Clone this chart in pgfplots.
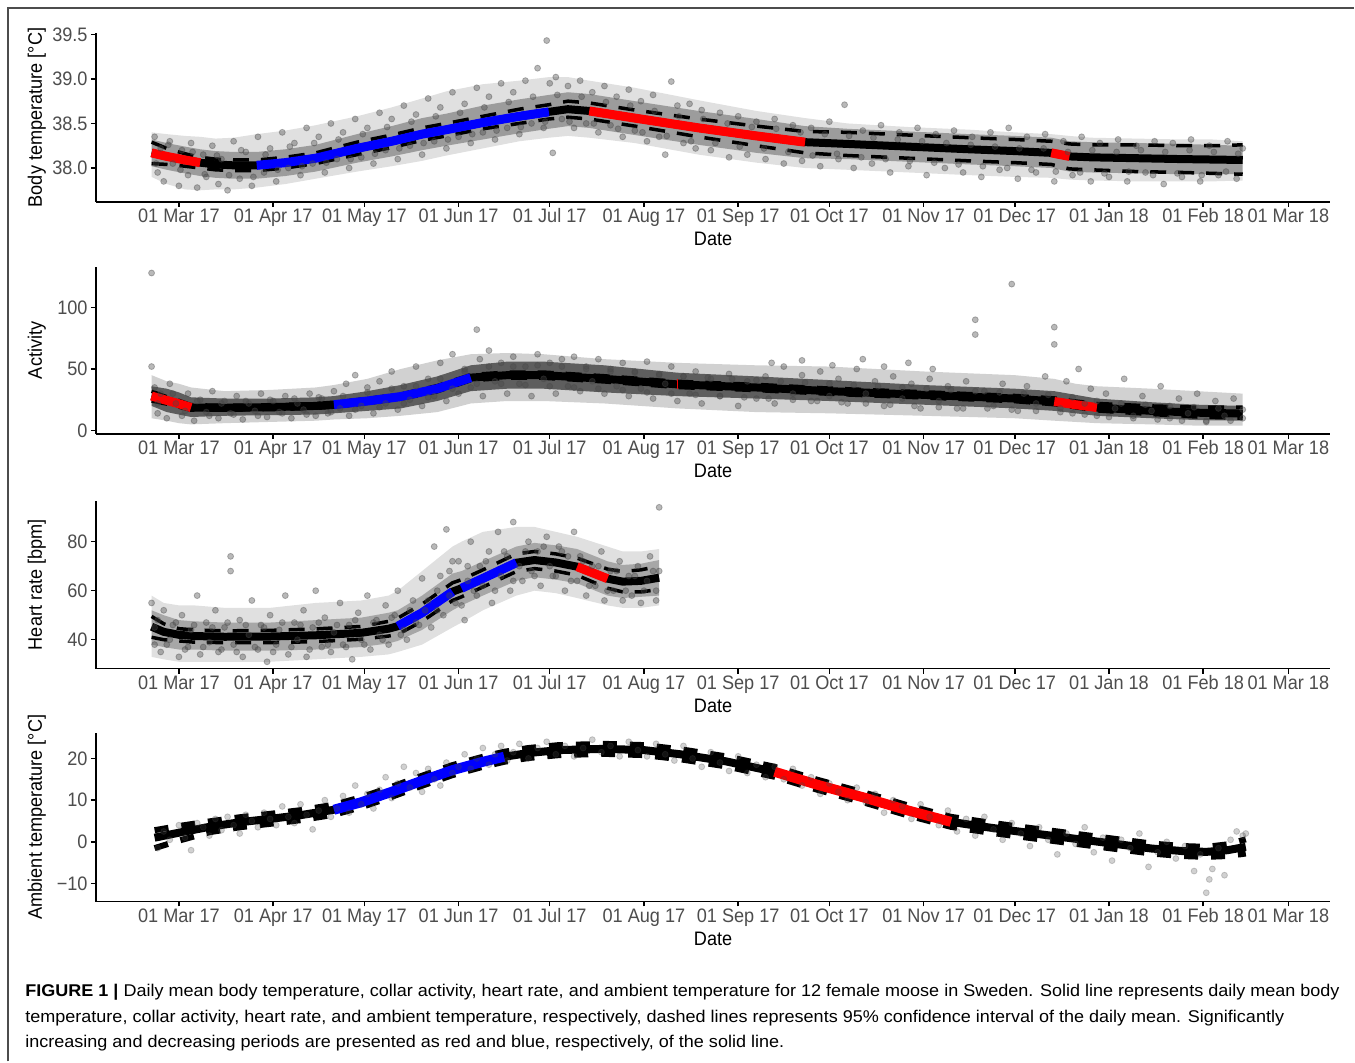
\documentclass[border=0pt]{standalone}
\usepackage{fontspec}
\setmainfont{Liberation Sans}
\newfontfamily\tickfont{Liberation Sans}[FakeStretch=0.93]
\usepackage{graphicx}
\usepackage{pgfplots}
\usepackage{pgfplotstable}
\pgfplotsset{compat=1.18}
\definecolor{tickgray}{HTML}{4D4D4D}
\definecolor{ptgray}{HTML}{484848}
\definecolor{myred}{HTML}{FF0000}
\definecolor{myblue}{HTML}{0000FF}
\newsavebox\capA
\newsavebox\capB
\newsavebox\capC

% body temperature: day (0 = 01 Mar 17), mean, 95% CI
\pgfplotstableread{
d m lo hi
-9 38.17 38.05 38.29
-4 38.13 38.04 38.22
2 38.09 38.02 38.16
7 38.06 38.00 38.12
12 38.04 37.98 38.10
18 38.03 37.97 38.09
25.6 38.03 37.97 38.09
35 38.06 38.00 38.12
45 38.11 38.05 38.17
58.6 38.22 38.15 38.29
70 38.30 38.23 38.37
80 38.38 38.31 38.45
88 38.43 38.36 38.50
100 38.51 38.44 38.58
112 38.58 38.50 38.66
121.7 38.63 38.55 38.71
128 38.66 38.57 38.75
135 38.64 38.55 38.73
150 38.56 38.47 38.65
171 38.45 38.35 38.55
190 38.36 38.25 38.47
206 38.29 38.17 38.41
220 38.27 38.14 38.40
240 38.24 38.11 38.37
260 38.21 38.08 38.34
275 38.19 38.06 38.32
287 38.17 38.04 38.30
293 38.13 37.99 38.27
300 38.12 37.98 38.26
315 38.11 37.96 38.26
330 38.10 37.95 38.25
340 38.095 37.94 38.25
350 38.09 37.93 38.26
}\bodyT

\pgfplotstableread{
d m lo hi
-9 28 24 32
-4 24.5 21.5 27.5
0 21.8 19 24.5
4 18.7 16.5 21
15 18.5 16.5 20.5
30 19 17 21
45 20 18 22
51 21 19 23
62 24 22 26
73 27.6 25.5 29.7
85 34 31.5 36.5
96 43 40.5 45.5
108 45 42.5 47.5
120 45 42.5 47.5
140 42 39.5 44.5
164 37.5 35 40
190 35 32.5 37.5
214 32 29.5 34.5
245 29 26.5 31.5
275 26 23.5 28.5
288 23.6 21 26.5
295 21 18.5 24
302 18.7 16 22
320 16 13 20
335 14.5 11 19
350 13.8 10 19
}\actT

\pgfplotstableread{
d m lo hi
-9 45.3 41 49.5
-5 43.2 40 46.5
0 42 39.5 44.5
5 41.5 39 44
15 41.2 38.8 43.6
30 41.3 38.8 43.8
45 41.8 39.2 44.4
60 42.8 40.2 45.4
69 44.5 41.5 47.5
72 45.5 42.2 48.8
80 51 47.5 54.5
90 59.6 56 63.2
93 61 57.5 64.5
100 65 61.5 68.5
111 71.4 67.8 75
117 72.5 69 76
124 71.5 68 75
131 69.8 66.3 73.3
141 64.9 61 68.8
146 63.7 59.5 67.8
152 64 59.5 68.5
158 65.3 60.5 70
}\hrT

\pgfplotstableread{
d m lo hi
-8 1.0 -1.5 2.8
0 2.2 0.3 3.8
10 3.6 2.3 4.9
20 4.7 3.5 5.9
31 5.6 4.4 6.8
40 6.4 5.2 7.6
51 7.7 6.5 8.9
60 9.5 8.3 10.7
70 12 10.8 13.2
79 14.4 13.2 15.6
90 17.2 16 18.4
100 19.2 18 20.4
107 20.4 19.2 21.6
115 21.3 20.1 22.5
125 22 20.8 23.2
140 22.3 21.1 23.5
153 22 20.8 23.2
165 21 19.8 22.2
180 19.3 18.1 20.5
196 16.8 15.6 18
210 13.7 12.5 14.9
226 10.5 9.3 11.7
240 7.5 6.3 8.7
254 4.8 3.6 6
265 3.6 2.4 4.8
275 2.6 1.4 3.8
290 1.2 0 2.4
306 -0.3 -1.5 0.9
320 -1.6 -2.8 -0.4
330 -2.2 -3.4 -1
338 -2.4 -3.6 -1.2
345 -2 -3.4 -0.6
351 -1.2 -2.8 0.6
}\ambT

\pgfplotsset{
  moosepanel/.style={
    scale only axis, width=617.5pt, anchor=south west,
    xmin=-27.3, xmax=378.8,
    axis lines=left, axis line style={-, line width=0.75pt},
    tick align=outside, major tick length=2.5pt,
    every tick/.style={black, line width=0.75pt},
    xtick={0,31,61,92,122,153,184,214,245,275,306,337,365},
    xticklabels={01 Mar 17,01 Apr 17,01 May 17,01 Jun 17,01 Jul 17,01 Aug 17,01 Sep 17,01 Oct 17,01 Nov 17,01 Dec 17,01 Jan 18,01 Feb 18,01 Mar 18},
    tick label style={font=\tickfont\fontsize{9.75}{11}\selectfont, text=tickgray},
    xticklabel style={anchor=base, yshift=-8pt},
    yticklabel style={inner xsep=1.5pt},
    xlabel={Date},
    label style={font=\tickfont\fontsize{9.75}{11}\selectfont},
    xlabel style={at={(axis description cs:0.5,0)}, anchor=center, yshift=-18.5pt},
    ylabel style={at={(axis description cs:-0.0478,0.5)}, anchor=center},
  },
  pts/.style={only marks, mark=*, mark size=1.5pt, mark options={fill=ptgray, draw=ptgray, fill opacity=0.38, draw opacity=0.38}},
  outerband/.style={draw=none, fill=black, fill opacity=0.12},
  innerband/.style={draw=none, fill=black, fill opacity=0.3},
  meanline/.style={black, line width=4pt},
  ciline/.style={black, line width=1.75pt, dash pattern=on 8pt off 6pt},
}

\begin{document}%
\sbox\capA{\fontsize{8.5}{10}\selectfont\textbf{FIGURE 1 |} Daily mean body temperature, collar activity, heart rate, and ambient temperature for 12 female moose in Sweden. Solid line represents daily mean body}%
\sbox\capB{\fontsize{8.5}{10}\selectfont temperature, collar activity, heart rate, and ambient temperature, respectively, dashed lines represents 95\% confidence interval of the daily mean. Significantly}%
\sbox\capC{\fontsize{8.5}{10}\selectfont increasing and decreasing periods are presented as red and blue, respectively, of the solid line.}%
\begin{tikzpicture}
\fill[white] (0,0) rectangle (677.5pt,531pt);
\draw[line width=0.75pt, black!70] (4pt,0) -- (4pt,527pt) -- (677.5pt,527pt);

% ---------------- Panel 1: body temperature
\begin{axis}[moosepanel, at={(48pt,430pt)}, height=84.5pt,
  ymin=37.62, ymax=39.515, ytick={38,38.5,39,39.5}, yticklabels={38.0,38.5,39.0,39.5},
  ylabel={Body temperature [°C]}]
\addplot[outerband] coordinates {(-9,38.40)(-4,38.38)(2,38.36)(7,38.35)(12,38.33)(18,38.34)(25.6,38.38)(35,38.42)(45,38.48)(58.6,38.58)(70,38.68)(80,38.78)(88,38.86)(100,38.94)(112,38.98)(121.7,39.02)(128,39.02)(135,38.98)(150,38.90)(171,38.76)(190,38.64)(206,38.56)(220,38.50)(240,38.46)(260,38.43)(275,38.40)(287,38.38)(293,38.36)(300,38.34)(315,38.33)(330,38.32)(340,38.32)(350,38.30)
(350,37.86)(340,37.85)(330,37.85)(315,37.85)(300,37.86)(293,37.87)(287,37.89)(275,37.90)(260,37.92)(240,37.95)(220,37.98)(206,38.00)(190,38.06)(171,38.15)(150,38.28)(135,38.34)(128,38.36)(121.7,38.34)(112,38.30)(100,38.22)(88,38.14)(80,38.08)(70,38.02)(58.6,37.96)(45,37.88)(35,37.82)(25.6,37.78)(18,37.76)(12,37.76)(7,37.75)(2,37.76)(-4,37.82)(-9,37.90)};
\addplot[pts] coordinates {(-8,38.35)(-7,37.95)(-6,38.22)(-5,37.85)(-3,38.30)(-2,38.05)(0,37.80)(1,38.20)(3,37.92)(4,38.28)(6,37.78)(8,38.15)(9,37.90)(11,38.25)(13,37.82)(14,38.10)(16,37.75)(18,38.30)(20,37.88)(22,38.18)(24,37.80)(26,38.35)(28,37.95)(30,38.22)(32,37.85)(34,38.40)(36,38.00)(38,38.28)(40,37.92)(42,38.45)(44,38.05)(46,38.35)(48,37.95)(50,38.50)(52,38.10)(54,38.40)(56,38.00)(58,38.55)(60,38.12)(62,38.45)(64,38.05)(66,38.62)(68,38.20)(70,38.55)(72,38.10)(74,38.70)(76,38.25)(78,38.60)(80,38.15)(82,38.78)(84,38.30)(86,38.68)(88,38.22)(90,38.85)(92,38.35)(94,38.72)(96,38.28)(98,38.90)(100,38.40)(102,38.80)(104,38.32)(106,38.95)(108,38.45)(110,38.85)(112,38.38)(114,38.98)(116,38.50)(118,39.12)(120,38.45)(121,39.43)(122,38.95)(123,38.17)(124,39.02)(126,38.55)(128,38.92)(130,38.45)(132,38.98)(134,38.50)(136,38.85)(138,38.40)(140,38.92)(142,38.48)(144,38.80)(146,38.35)(148,38.88)(150,38.42)(152,38.75)(154,38.30)(156,38.82)(158,38.35)(160,38.15)(162,38.97)(164,38.70)(166,38.28)(168,38.72)(170,38.22)(172,38.65)(175,38.20)(178,38.62)(181,38.12)(184,38.58)(187,38.15)(190,38.52)(193,38.10)(196,38.55)(199,38.05)(202,38.48)(205,38.08)(208,38.45)(211,38.02)(214,38.52)(217,38.10)(219,38.71)(222,38.00)(225,38.42)(228,38.05)(231,38.48)(234,37.95)(237,38.40)(240,38.02)(243,38.45)(246,37.92)(249,38.38)(252,38.00)(255,38.42)(258,37.95)(261,38.35)(264,37.90)(267,38.40)(270,37.98)(273,38.45)(276,37.88)(279,38.35)(282,37.95)(285,38.38)(288,37.85)(291,38.30)(294,37.92)(297,38.35)(300,37.85)(303,38.28)(306,37.90)(309,38.32)(312,37.85)(315,38.25)(318,37.95)(321,38.30)(324,37.82)(327,38.28)(330,37.90)(333,38.32)(336,37.85)(339,38.25)(342,37.92)(345,38.30)(348,37.88)(350,38.22)
(-7.5,38.05)(-3.5,38.26)(0.5,37.98)(4.5,38.18)(8.5,37.93)(12.5,38.14)(16.5,37.92)(20.5,38.20)(24.5,37.90)(28.5,38.15)(32.5,37.98)(36.5,38.24)(40.5,38.02)(44.5,38.28)(48.5,38.06)(52.5,38.32)(56.5,38.10)(60.5,38.38)(64.5,38.16)(68.5,38.46)(72.5,38.22)(76.5,38.52)(80.5,38.28)(84.5,38.58)(88.5,38.32)(92.5,38.62)(96.5,38.38)(100.5,38.68)(104.5,38.42)(108.5,38.74)(112.5,38.46)(116.5,38.80)(120.5,38.52)(124.5,38.82)(128.5,38.52)(132.5,38.80)(136.5,38.50)(140.5,38.74)(144.5,38.44)(148.5,38.70)(152.5,38.40)(156.5,38.64)(160.5,38.36)(164.5,38.58)(168.5,38.30)(172.5,38.55)(176.5,38.28)(180.5,38.50)(184.5,38.24)(188.5,38.46)(192.5,38.22)(196.5,38.44)(200.5,38.18)(204.5,38.40)(208.5,38.14)(212.5,38.38)(216.5,38.16)(220.5,38.36)(224.5,38.12)(228.5,38.34)(232.5,38.10)(236.5,38.32)(240.5,38.08)(244.5,38.30)(248.5,38.06)(252.5,38.28)(256.5,38.04)(260.5,38.26)(264.5,38.02)(268.5,38.24)(272.5,38.00)(276.5,38.22)(280.5,37.98)(284.5,38.22)(288.5,37.96)(292.5,38.18)(296.5,37.95)(300.5,38.20)(304.5,37.94)(308.5,38.18)(312.5,37.96)(316.5,38.20)(320.5,37.92)(324.5,38.18)(328.5,37.94)(332.5,38.20)(336.5,37.92)(340.5,38.18)(344.5,37.96)(348.5,38.16)};
\addplot[innerband] coordinates {(-9,38.32)(-4,38.28)(2,38.24)(7,38.21)(12,38.19)(18,38.18)(25.6,38.18)(35,38.21)(45,38.26)(58.6,38.38)(70,38.47)(80,38.56)(88,38.61)(100,38.70)(112,38.77)(121.7,38.82)(128,38.85)(135,38.83)(150,38.75)(171,38.64)(190,38.55)(206,38.47)(220,38.44)(240,38.41)(260,38.38)(275,38.36)(287,38.34)(293,38.30)(300,38.29)(315,38.28)(330,38.27)(340,38.26)(350,38.25)
(350,37.93)(340,37.93)(330,37.93)(315,37.94)(300,37.95)(293,37.96)(287,38.00)(275,38.02)(260,38.04)(240,38.07)(220,38.10)(206,38.11)(190,38.17)(171,38.26)(150,38.37)(135,38.45)(128,38.47)(121.7,38.44)(112,38.39)(100,38.32)(88,38.25)(80,38.20)(70,38.13)(58.6,38.06)(45,37.96)(35,37.91)(25.6,37.88)(18,37.88)(12,37.89)(7,37.91)(2,37.94)(-4,37.98)(-9,38.02)};
\addplot[ciline] table[x=d,y=lo]{\bodyT};
\addplot[ciline] table[x=d,y=hi]{\bodyT};
\addplot[meanline] table[x=d,y=m]{\bodyT};
\addplot[myred, line width=4.5pt, restrict x to domain=-9:7] table[x=d,y=m]{\bodyT};
\addplot[myblue, line width=4.5pt, restrict x to domain=25:122] table[x=d,y=m]{\bodyT};
\addplot[myred, line width=4.5pt, restrict x to domain=135:206] table[x=d,y=m]{\bodyT};
\addplot[myred, line width=4.5pt, restrict x to domain=287:293] table[x=d,y=m]{\bodyT};
\end{axis}

% ---------------- Panel 2: activity
\begin{axis}[moosepanel, at={(48pt,314pt)}, height=83.5pt,
  ymin=-2.6, ymax=133, ytick={0,50,100}, yticklabels={0,50,100},
  ylabel={Activity}]
\addplot[outerband, fill opacity=0.18] coordinates {(-9,45)(-4,40)(0,38)(4,35)(15,32)(30,33)(45,35)(51,37)(62,42)(73,50)(85,57)(96,62)(108,63)(120,62)(140,58)(164,55)(190,53)(214,52)(245,48)(275,45)(288,42)(295,38)(302,36)(320,34)(335,32)(350,30)
(350,4)(335,4)(320,5)(302,6)(295,7)(288,8)(275,10)(245,12)(214,14)(190,15)(164,18)(140,22)(120,24)(108,24)(96,22)(85,15)(73,12)(62,10)(51,9)(45,8)(30,7)(15,6)(4,5)(0,6)(-4,8)(-9,10)};
\addplot[pts] coordinates {(-9,128)(-9,52)(-8,35)(-7,14)(-6,30)(-4,10)(-3,38)(-1,22)(1,12)(3,30)(5,8)(7,25)(9,15)(11,32)(13,10)(15,24)(17,14)(19,28)(21,9)(23,22)(25,16)(27,30)(29,11)(31,24)(33,15)(35,28)(37,10)(39,22)(41,17)(43,30)(45,12)(47,26)(49,14)(51,32)(53,18)(55,38)(56,12)(58,45)(60,20)(62,35)(64,14)(66,40)(68,22)(70,48)(72,17)(74,36)(76,25)(78,52)(80,20)(82,42)(84,28)(86,55)(88,24)(90,62)(92,30)(94,50)(96,35)(98,82)(99,58)(100,28)(102,65)(104,40)(106,55)(108,30)(110,60)(112,38)(114,52)(116,28)(118,62)(120,42)(122,55)(124,30)(126,58)(128,36)(130,60)(132,32)(134,52)(136,40)(138,58)(140,30)(142,50)(144,36)(146,55)(148,28)(150,48)(152,34)(154,56)(156,26)(158,45)(160,38)(162,52)(164,24)(166,44)(168,30)(170,48)(172,22)(175,42)(178,28)(181,46)(184,20)(187,40)(190,26)(193,44)(196,22)(199,52)(202,30)(205,45)(208,24)(211,48)(214,28)(217,42)(220,22)(223,50)(226,30)(229,40)(232,20)(235,44)(238,26)(241,38)(244,18)(247,42)(250,24)(253,36)(256,18)(259,40)(262,90)(262,78)(265,32)(268,20)(271,38)(274,119)(276,16)(279,36)(282,22)(285,44)(288,84)(288,70)(290,18)(292,40)(294,14)(296,50)(298,22)(300,34)(302,12)(305,30)(308,18)(311,42)(314,12)(317,28)(320,16)(323,36)(326,10)(329,26)(332,14)(335,30)(338,8)(341,24)(344,12)(347,26)(350,10)
(-7,22)(-2,30)(2,16)(6,24)(10,12)(14,22)(18,13)(22,24)(26,12)(30,25)(34,14)(38,26)(42,13)(46,27)(50,15)(54,28)(58,17)(62,31)(66,19)(70,34)(74,22)(78,36)(82,27)(86,42)(90,34)(94,48)(98,38)(102,52)(106,38)(110,52)(114,37)(118,53)(122,36)(126,52)(130,35)(134,50)(138,34)(142,48)(146,33)(150,47)(154,31)(158,46)(162,30)(166,44)(170,29)(174,43)(178,28)(182,42)(186,27)(190,41)(194,26)(198,40)(202,25)(206,39)(210,24)(214,38)(218,23)(222,37)(226,22)(230,36)(234,21)(238,35)(242,20)(246,34)(250,19)(254,33)(258,18)(262,32)(266,18)(270,31)(274,17)(278,30)(282,16)(286,29)(290,15)(294,27)(298,13)(302,24)(306,11)(310,22)(314,10)(318,21)(322,9)(326,20)(330,8)(334,19)(338,7)(342,18)(346,8)(350,17)
(195,55)(205,57)(215,53)(225,58)(232,52)(240,55)(248,50)};
\addplot[innerband, fill opacity=0.55] coordinates {(-9,36)(-4,34)(0,31)(4,27)(15,26)(30,26)(45,27)(51,28)(62,32)(73,37)(85,44)(96,53)(108,56)(120,56)(140,53)(164,47)(190,44)(214,41)(245,37)(275,34)(288,32)(295,29)(302,26)(320,23)(335,21)(350,20)
(350,8)(335,8.5)(320,10)(302,12)(295,14)(288,16)(275,18)(245,21)(214,24)(190,26)(164,28)(140,31)(120,34)(108,34)(96,32)(85,24)(73,18)(62,16)(51,14)(45,13)(30,12.5)(15,12)(4,11)(0,13)(-4,15)(-9,20)};
\addplot[ciline] table[x=d,y=lo]{\actT};
\addplot[ciline] table[x=d,y=hi]{\actT};
\addplot[meanline] table[x=d,y=m]{\actT};
\addplot[myred, line width=4.5pt, restrict x to domain=-9:4] table[x=d,y=m]{\actT};
\addplot[myblue, line width=4.5pt, restrict x to domain=51:96] table[x=d,y=m]{\actT};
\addplot[myred, line width=0.6pt] coordinates {(164,33.5)(164,41.5)};
\addplot[myred, line width=4.5pt, restrict x to domain=288:302] table[x=d,y=m]{\actT};
\end{axis}

% ---------------- Panel 3: heart rate
\begin{axis}[moosepanel, at={(48pt,196.5pt)}, height=84pt,
  ymin=28.2, ymax=96.7, ytick={40,60,80}, yticklabels={40,60,80},
  ylabel={Heart rate [bpm]}]
\addplot[outerband] coordinates {(-9,58)(-5,55)(0,54)(5,54)(15,53)(30,53)(45,55)(60,56)(69,58)(72,60)(80,68)(90,78)(93,80)(100,84)(111,86)(117,86)(124,84)(131,82)(141,78)(146,76)(152,76)(158,77)
(158,54)(152,53)(146,53)(141,54)(131,57)(124,59)(117,60)(111,58)(100,52)(93,47)(90,45)(80,38)(72,35)(69,34)(60,33)(45,32)(30,31)(15,31)(5,31)(0,31)(-5,32)(-9,33)};
\addplot[pts] coordinates {(-9,55)(-8,38)(-7,48)(-6,35)(-5,52)(-3,40)(-2,46)(0,33)(1,50)(3,37)(4,44)(6,58)(7,34)(9,47)(10,39)(12,52)(13,35)(15,45)(17,74)(17,68)(18,38)(20,48)(21,33)(23,42)(24,56)(26,36)(27,46)(29,31)(30,50)(32,38)(33,44)(35,58)(36,34)(38,47)(39,40)(41,52)(42,33)(44,45)(45,60)(47,37)(48,49)(50,35)(51,43)(53,55)(54,38)(56,46)(57,32)(59,51)(60,40)(62,58)(63,36)(65,48)(66,42)(68,54)(69,38)(71,50)(72,60)(74,44)(75,40)(77,56)(78,47)(80,65)(81,52)(83,45)(84,78)(85,60)(87,50)(88,85)(89,68)(91,55)(92,72)(94,48)(95,64)(96,80)(98,58)(99,70)(100,62)(102,76)(103,55)(105,84)(106,66)(108,74)(109,60)(110,88)(112,70)(113,64)(115,80)(116,68)(118,76)(119,62)(121,82)(122,70)(124,66)(125,78)(127,60)(128,74)(130,84)(131,64)(133,72)(134,58)(136,70)(137,62)(139,76)(140,56)(142,68)(143,60)(145,72)(146,56)(148,66)(149,58)(151,70)(152,55)(154,64)(155,74)(157,60)(158,94)(158,68)
(-8,45)(-4,38)(-1,47)(2,36)(5,46)(8,37)(11,45)(14,36)(16,47)(19,35)(22,46)(25,37)(28,45)(31,35)(34,47)(37,37)(40,46)(43,36)(46,47)(49,38)(52,46)(55,37)(58,48)(61,38)(64,47)(67,40)(70,49)(73,42)(76,52)(79,46)(82,56)(85,52)(86,66)(89,58)(90,72)(93,54)(95,70)(97,60)(101,72)(104,60)(107,76)(110,64)(114,76)(117,66)(120,78)(123,66)(126,76)(129,64)(132,74)(135,62)(138,70)(141,60)(144,68)(147,60)(150,66)(153,60)(156,68)(157,56)};
\addplot[innerband, fill opacity=0.25] coordinates {(-9,52)(-5,50)(0,48)(5,47.5)(15,47)(30,47)(45,48)(60,49)(69,51)(72,52)(80,58)(90,67)(93,68)(100,72)(111,78)(117,79.5)(124,78.5)(131,77)(141,72)(146,70.5)(152,71)(158,72.5)
(158,58)(152,57.5)(146,57)(141,58)(131,63)(124,64.5)(117,65.5)(111,64)(100,58)(93,54)(90,52)(80,44)(72,39.5)(69,38.5)(60,37)(45,36)(30,35.5)(15,35.5)(5,36)(0,36)(-5,37)(-9,38)};
\addplot[ciline] table[x=d,y=lo]{\hrT};
\addplot[ciline] table[x=d,y=hi]{\hrT};
\addplot[meanline] table[x=d,y=m]{\hrT};
\addplot[myblue, line width=4.5pt, restrict x to domain=72:90] table[x=d,y=m]{\hrT};
\addplot[myblue, line width=4.5pt, restrict x to domain=93:111] table[x=d,y=m]{\hrT};
\addplot[myred, line width=4.5pt, restrict x to domain=131:141] table[x=d,y=m]{\hrT};
\end{axis}

% ---------------- Panel 4: ambient temperature
\begin{axis}[moosepanel, at={(48pt,80pt)}, height=84.5pt,
  ymin=-14.3, ymax=26.2, ytick={-10,0,10,20}, yticklabels={−10,0,10,20},
  ylabel={Ambient temperature [°C]}]
\addplot[only marks, mark=*, mark size=1.5pt, mark options={fill=ptgray, draw=ptgray, fill opacity=0.25, draw opacity=0.25}] coordinates {(-7,-1.5)(-5,2.5)(-3,0.5)(0,4.0)(2,1.0)(4,-2.0)(6,4.5)(8,3.5)(10,1.5)(12,5.5)(14,2.8)(16,6.0)(18,4.0)(20,2.0)(22,6.5)(24,5.0)(26,3.5)(28,7.0)(30,5.5)(32,4.0)(34,8.5)(36,6.0)(38,4.5)(40,9.0)(42,6.5)(44,3.0)(46,7.5)(48,10.0)(50,6.0)(52,8.0)(54,11.0)(56,7.0)(58,13.5)(60,9.0)(62,11.5)(64,8.0)(66,12.5)(68,15.5)(70,10.5)(72,14.0)(74,18.0)(76,13.0)(78,16.5)(80,12.0)(82,17.5)(84,15.0)(86,13.5)(88,19.0)(90,16.5)(92,18.0)(94,21.0)(96,17.5)(98,20.0)(100,22.5)(102,18.5)(104,21.0)(106,23.0)(108,19.5)(110,21.5)(112,23.5)(115,20.0)(118,22.5)(121,24.0)(124,21.0)(127,23.0)(130,20.5)(133,22.5)(136,24.5)(139,21.5)(142,23.0)(145,20.5)(148,24.0)(151,22.0)(154,20.5)(157,23.5)(160,21.0)(163,19.5)(166,23.0)(169,20.0)(172,18.0)(175,21.5)(178,19.0)(181,17.0)(184,20.5)(187,16.5)(190,18.5)(193,15.5)(196,18.0)(199,15.0)(202,17.5)(205,13.5)(208,15.5)(211,11.5)(214,14.0)(217,12.0)(220,10.0)(223,13.0)(226,9.5)(229,11.5)(232,7.0)(235,10.0)(238,8.5)(241,5.5)(244,9.0)(247,6.0)(250,4.0)(253,7.5)(256,2.5)(259,5.5)(262,1.5)(265,6.0)(268,3.0)(271,0.5)(274,4.5)(277,2.0)(280,-1.0)(283,3.5)(286,0.5)(289,-3.0)(292,2.0)(295,-0.5)(298,3.5)(301,-2.5)(304,1.0)(307,-4.5)(310,0.5)(313,-1.5)(316,2.0)(319,-6.0)(322,-2.5)(325,0.0)(328,-4.0)(331,-1.0)(334,-7.0)(336,-3.0)(338,-12.2)(339,-9.0)(340,-6.5)(342,-1.5)(344,-8.0)(346,0.5)(348,2.5)(350,1.5)(351,2.0)};
\addplot[meanline] table[x=d,y=m]{\ambT};
\addplot[black, line width=3pt, dash pattern=on 7pt off 6.5pt] table[x=d,y=lo]{\ambT};
\addplot[black, line width=3pt, dash pattern=on 7pt off 6.5pt] table[x=d,y=hi]{\ambT};
\addplot[myblue, line width=5pt, restrict x to domain=51:107] table[x=d,y=m]{\ambT};
\addplot[myred, line width=5pt, restrict x to domain=196:254] table[x=d,y=m]{\ambT};
\end{axis}

% ---------------- caption
\pgfmathsetmacro\capscale{657.5/\wd\capA}
\node[anchor=base west, inner sep=0] at (12.5pt,32.5pt) {\scalebox{\capscale}[1]{\usebox\capA}};
\node[anchor=base west, inner sep=0] at (12.5pt,19.5pt) {\scalebox{\capscale}[1]{\usebox\capB}};
\node[anchor=base west, inner sep=0] at (12.5pt,7pt) {\scalebox{\capscale}[1]{\usebox\capC}};
\end{tikzpicture}%
\end{document}
